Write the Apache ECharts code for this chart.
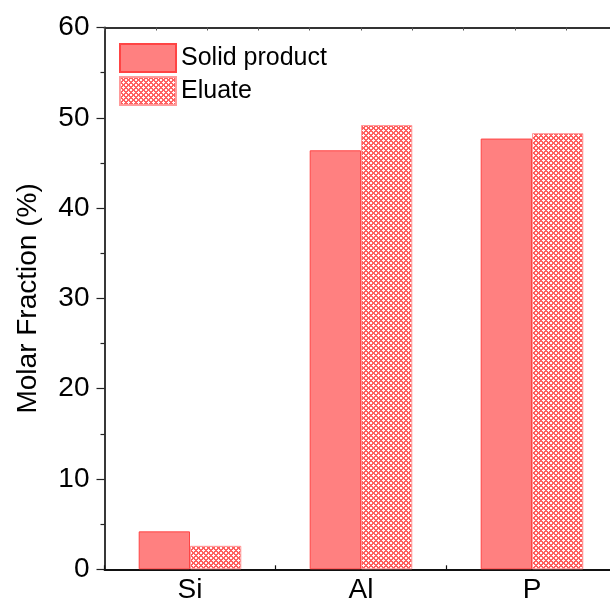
<!DOCTYPE html>
<html>
<head>
<meta charset="utf-8">
<script src="https://cdn.jsdelivr.net/npm/echarts@6/dist/echarts.min.js"></script>
<style>html,body{margin:0;padding:0;background:#fff}#c{width:610px;height:605px}</style>
</head>
<body>
<div id="c"></div>
<script>
const categories = ['Si', 'Al', 'P'];
const solidProduct = [4.2, 46.4, 47.7];
const eluate = [2.6, 49.2, 48.3];
const yTicks = [0, 10, 20, 30, 40, 50, 60];

function makeHatch() {
  const N = 5;
  const c = document.createElement('canvas');
  c.width = N; c.height = N;
  const ctx = c.getContext('2d');
  const img = ctx.createImageData(N, N);
  for (let y = 0; y < N; y++) {
    for (let x = 0; x < N; x++) {
      const i = (y * N + x) * 4;
      const on = ((x + y) % N) < 2 || (((x - y) % N + N) % N) < 2;
      if (on) { img.data[i] = 255; img.data[i+1] = 95; img.data[i+2] = 95; }
      else { img.data[i] = 255; img.data[i+1] = 250; img.data[i+2] = 250; }
      img.data[i+3] = 255;
    }
  }
  ctx.putImageData(img, 0, 0);
  return c;
}

const font = "Arial, 'Liberation Sans', sans-serif";
const chart = echarts.init(document.getElementById('c'), null, {renderer: 'canvas'});
chart.setOption({
  animation: false,
  backgroundColor: '#fff',
  grid: {left: 104.5, top: 27.5, width: 513, height: 541.8, containLabel: false, outerBoundsMode: 'none'},
  legend: {
    orient: 'vertical', left: 119, top: 43, padding: 0, itemWidth: 56, itemHeight: 28, itemGap: 3,
    textStyle: {fontSize: 25, fontFamily: font, color: '#000'},
    icon: 'rect',
    data: ['Solid product', 'Eluate']
  },
  xAxis: [
    {
      type: 'category', data: categories, position: 'bottom',
      axisLine: {lineStyle: {color: '#111', width: 1.8}},
      axisTick: {show: true, inside: true, length: 4, interval: 0, alignWithLabel: false, lineStyle: {color: '#111', width: 1.2}},
      axisLabel: {fontSize: 28, fontFamily: font, color: '#000', margin: 7},
      splitLine: {show: false}
    },
    {
      type: 'category', data: categories, position: 'bottom',
      axisLine: {show: false},
      axisTick: {show: true, inside: true, length: 8, interval: 0, alignWithLabel: true, lineStyle: {color: '#111', width: 1.2}},
      axisLabel: {show: false}
    },
    {
      type: 'value', min: 0, max: 10, interval: 1, position: 'top',
      axisLine: {show: true, onZero: false, lineStyle: {color: '#333', width: 1.8}},
      axisTick: {show: true, inside: true, length: 3, lineStyle: {color: '#555', width: 1}},
      axisLabel: {show: false}, splitLine: {show: false}
    }
  ],
  yAxis: {
    type: 'value', min: 0, max: 60, interval: 10,
    name: 'Molar Fraction (%)', nameLocation: 'middle', nameGap: 62, nameRotate: 90,
    nameTextStyle: {fontSize: 28, fontFamily: font, color: '#000'},
    axisLine: {show: true, lineStyle: {color: '#222', width: 1.8}},
    axisTick: {show: true, inside: false, length: 8, lineStyle: {color: '#222', width: 1.2}},
    minorTick: {show: true, splitNumber: 2, length: 4, lineStyle: {color: '#222', width: 1.2}},
    axisLabel: {fontSize: 28, fontFamily: font, color: '#000', margin: 15,
      formatter: v => yTicks.includes(v) ? String(v) : ''},
    splitLine: {show: false}
  },
  series: [
    {
      name: 'Solid product', type: 'bar', data: solidProduct, xAxisIndex: 0,
      barGap: '0%', barCategoryGap: '40%',
      itemStyle: {color: '#ff8080', borderColor: '#ff4444', borderWidth: 1}
    },
    {
      name: 'Eluate', type: 'bar', data: eluate, xAxisIndex: 0,
      barGap: '0%', barCategoryGap: '40%',
      itemStyle: {color: {image: makeHatch(), repeat: 'repeat'}, borderColor: '#ff9a9a', borderWidth: 1}
    }
  ]
});
</script>
</body>
</html>
